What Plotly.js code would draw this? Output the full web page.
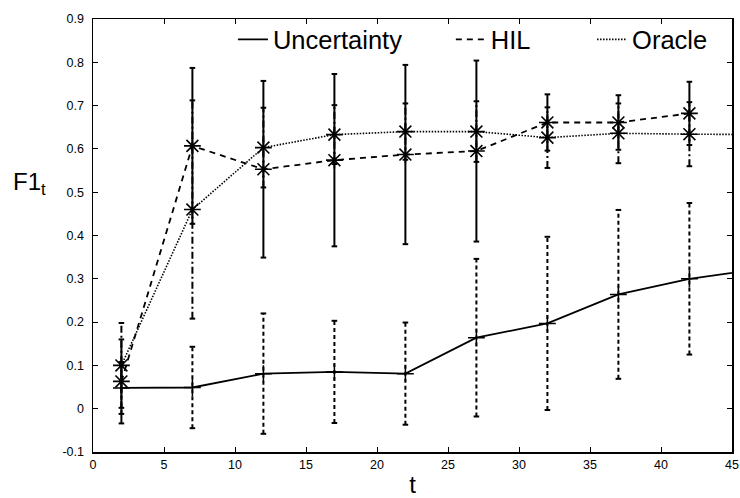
<!DOCTYPE html>
<html>
<head>
<meta charset="utf-8">
<script src="https://cdn.plot.ly/plotly-3.0.1.min.js"></script>
<style>html,body{margin:0;padding:0;background:#fff;}#chart{width:740px;height:498px;}</style>
</head>
<body>
<div id="chart"></div>
<script>
// ---- data ----
const uncX = [2, 7, 12, 17, 22, 27, 32, 37, 42, 47];
const uncY = [0.048, 0.049, 0.081, 0.085, 0.081, 0.164, 0.197, 0.264, 0.300, 0.323];
const uncErr = [0.06, 0.094, 0.139, 0.118, 0.118, 0.182, 0.200, 0.195, 0.175, 0.17];

const hilX = [2, 7, 12, 17, 22, 27, 32, 37, 42];
const hilY = [0.063, 0.607, 0.553, 0.574, 0.587, 0.595, 0.661, 0.661, 0.682];
const hilErr = [0.097, 0.180, 0.204, 0.199, 0.207, 0.209, 0.065, 0.063, 0.073];

const oraX = [2, 7, 12, 17, 22, 27, 32, 37, 42, 47];
const oraY = [0.100, 0.460, 0.603, 0.633, 0.640, 0.640, 0.626, 0.636, 0.634, 0.633];
const oraErr = [0.098, 0.252, 0.092, 0.068, 0.065, 0.070, 0.070, 0.069, 0.074, 0.07];

const seriesNames = ["Uncertainty", "HIL", "Oracle"];
const xTickVals = [0, 5, 10, 15, 20, 25, 30, 35, 40, 45];
const yTickVals = [-0.1, 0, 0.1, 0.2, 0.3, 0.4, 0.5, 0.6, 0.7, 0.8, 0.9];
const yTickText = ["-0.1", "0", "0.1", "0.2", "0.3", "0.4", "0.5", "0.6", "0.7", "0.8", "0.9"];

const FONT = "Liberation Sans, Arial, Helvetica, sans-serif";

function errSegments(xs, ys, es) {
  const x = [], y = [];
  xs.forEach((xv, i) => { x.push(xv, xv, null); y.push(ys[i] - es[i], ys[i] + es[i], null); });
  return {x, y};
}
function errCaps(xs, ys, es) {
  const x = [], y = [];
  xs.forEach((xv, i) => { x.push(xv, xv); y.push(ys[i] - es[i], ys[i] + es[i]); });
  return {x, y};
}
function errTraces(xs, ys, es, dash) {
  const s = errSegments(xs, ys, es), c = errCaps(xs, ys, es);
  return [
    {x: s.x, y: s.y, mode: 'lines', connectgaps: false, showlegend: false, hoverinfo: 'skip',
     line: {color: '#000', width: 2, dash: dash}},
    {x: c.x, y: c.y, mode: 'markers', showlegend: false, hoverinfo: 'skip',
     marker: {symbol: 'line-ew', size: 4, color: '#000', line: {color: '#000', width: 2}}}
  ];
}

const traces = [].concat(
  errTraces(uncX, uncY, uncErr, '4px,3px'),
  errTraces(hilX, hilY, hilErr, 'solid'),
  errTraces(oraX, oraY, oraErr, '7px,3px,2px,3px'),
  [
    {x: uncX, y: uncY, mode: 'lines', name: seriesNames[0], legend: 'legend',
     line: {color: '#000', width: 1.8}},
    {x: hilX, y: hilY, mode: 'lines', name: seriesNames[1], legend: 'legend2',
     line: {color: '#000', width: 1.8, dash: '6px,5px'}},
    {x: oraX, y: oraY, mode: 'lines', name: seriesNames[2], legend: 'legend3',
     line: {color: '#000', width: 1.6, dash: '1.5px,1.5px'}},
    {x: uncX, y: uncY, mode: 'markers', showlegend: false,
     marker: {symbol: 'cross-thin-open', size: 12, color: '#000', line: {color: '#000', width: 1.5}}},
    {x: hilX, y: hilY, mode: 'markers', showlegend: false,
     marker: {symbol: 'asterisk-open', size: 14, color: '#000', line: {color: '#000', width: 1.6}}},
    {x: oraX, y: oraY, mode: 'markers', showlegend: false,
     marker: {symbol: 'asterisk-open', size: 14, color: '#000', line: {color: '#000', width: 1.6}}}
  ]
);

const legendCommon = {orientation: 'h', xanchor: 'left', yanchor: 'middle', y: 0.952,
  bgcolor: 'rgba(0,0,0,0)', borderwidth: 0, font: {family: FONT, size: 25.5, color: '#000'}};

const axisCommon = {showline: true, linecolor: '#000', linewidth: 1.5, mirror: 'ticks',
  ticks: 'inside', ticklen: 5, tickwidth: 1, tickcolor: '#000', showgrid: false, zeroline: false,
  tickfont: {family: FONT, size: 12.5, color: '#000'}};

const layout = {
  width: 740, height: 498,
  margin: {l: 93, r: 8, t: 19, b: 46},
  paper_bgcolor: '#fff', plot_bgcolor: '#fff',
  showlegend: true,
  xaxis: Object.assign({}, axisCommon, {range: [0, 45], tickvals: xTickVals,
    title: {text: 't', font: {family: FONT, size: 24, color: '#000'}, standoff: 9}}),
  yaxis: Object.assign({}, axisCommon, {range: [-0.1, 0.9], tickvals: yTickVals, ticktext: yTickText,
    ticklabelstandoff: 5}),
  legend: Object.assign({}, legendCommon, {x: 0.219}),
  legend2: Object.assign({}, legendCommon, {x: 0.56}),
  legend3: Object.assign({}, legendCommon, {x: 0.781}),
  annotations: [{
    text: 'F1<sub>t</sub>', xref: 'paper', yref: 'paper', x: -0.1, y: 0.62,
    xanchor: 'center', yanchor: 'middle', showarrow: false,
    font: {family: FONT, size: 24, color: '#000'}
  }]
};

Plotly.newPlot('chart', traces, layout, {staticPlot: true, displayModeBar: false});
</script>
</body>
</html>
